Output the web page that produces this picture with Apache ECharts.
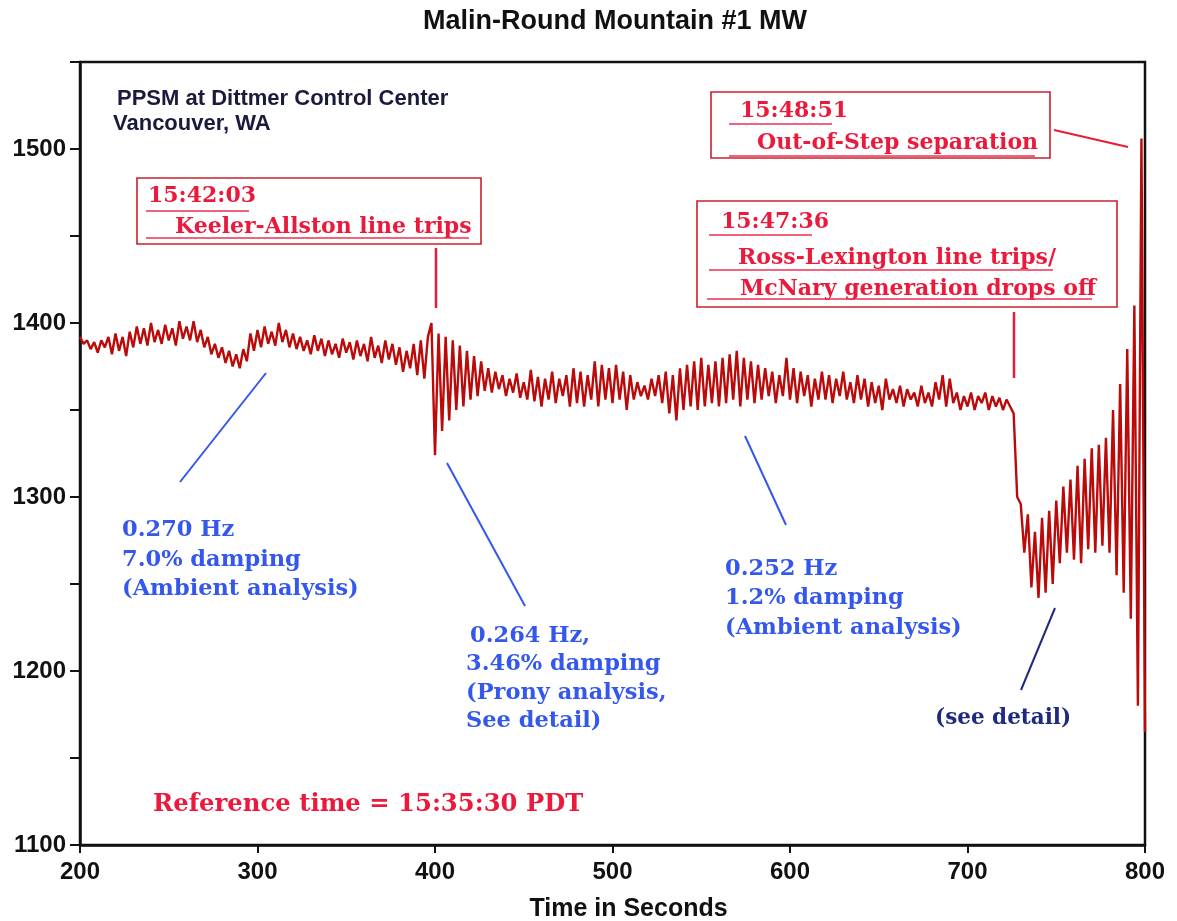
<!DOCTYPE html>
<html>
<head>
<meta charset="utf-8">
<title>Malin-Round Mountain #1 MW</title>
<script src="https://cdn.jsdelivr.net/npm/echarts@6/dist/echarts.min.js"></script>
<style>
  html, body { margin: 0; padding: 0; background: #fff; }
  #chart { width: 1177px; height: 921px; }
</style>
</head>
<body>
<div id="chart"></div>
<script>
// PPSM record of Malin-Round Mountain #1 flow (MW), one reading every 2 s from t = 200 s
const TIME_START = 200;
const TIME_STEP = 2;
const mw = [
  1392, 1388, 1390, 1385, 1389, 1383, 1390, 1386, 1392, 1382,
  1394, 1384, 1392, 1381, 1395, 1386, 1398, 1388, 1397, 1387,
  1400, 1389, 1396, 1388, 1399, 1390, 1397, 1387, 1401, 1391,
  1398, 1390, 1401, 1389, 1396, 1386, 1392, 1382, 1388, 1380,
  1386, 1377, 1384, 1375, 1382, 1374, 1385, 1378, 1394, 1384,
  1396, 1386, 1398, 1388, 1395, 1387, 1400, 1389, 1396, 1386,
  1394, 1385, 1392, 1384, 1390, 1382, 1393, 1384, 1391, 1381,
  1390, 1382, 1388, 1380, 1391, 1383, 1389, 1379, 1390, 1381,
  1388, 1378, 1392, 1380, 1387, 1377, 1390, 1379, 1388, 1376,
  1386, 1372, 1384, 1374, 1388, 1370, 1390, 1368, 1392, 1400,
  1324, 1394, 1338, 1392, 1344, 1390, 1350, 1387, 1352, 1384,
  1356, 1381, 1358, 1378, 1361, 1374, 1360, 1372, 1362, 1370,
  1358, 1368, 1360, 1371, 1357, 1366, 1356, 1373, 1355, 1369,
  1352, 1368, 1356, 1372, 1354, 1368, 1358, 1370, 1352, 1374,
  1354, 1372, 1352, 1370, 1356, 1378, 1352, 1376, 1356, 1374,
  1354, 1376, 1356, 1372, 1350, 1370, 1356, 1366, 1358, 1364,
  1356, 1368, 1358, 1370, 1354, 1372, 1348, 1370, 1344, 1374,
  1350, 1376, 1352, 1378, 1350, 1380, 1352, 1376, 1354, 1378,
  1352, 1380, 1354, 1382, 1356, 1384, 1352, 1380, 1356, 1378,
  1354, 1376, 1356, 1374, 1358, 1372, 1354, 1370, 1358, 1380,
  1356, 1374, 1354, 1372, 1358, 1370, 1352, 1368, 1356, 1372,
  1356, 1370, 1354, 1368, 1358, 1372, 1356, 1366, 1354, 1370,
  1356, 1368, 1352, 1366, 1354, 1364, 1350, 1368, 1356, 1362,
  1354, 1364, 1352, 1362, 1356, 1360, 1352, 1364, 1354, 1360,
  1352, 1366, 1356, 1370, 1352, 1368, 1354, 1360, 1350, 1358,
  1352, 1360, 1350, 1358, 1354, 1360, 1350, 1358, 1352, 1357,
  1350, 1356, 1352, 1348, 1300, 1296, 1268, 1290, 1248, 1280,
  1242, 1288, 1245, 1292, 1250, 1298, 1262, 1306, 1268, 1310,
  1264, 1318, 1262, 1322, 1270, 1328, 1268, 1330, 1272, 1334,
  1268, 1350, 1255, 1365, 1245, 1385, 1230, 1410, 1180, 1506,
  1165
];

// Axis ranges and tick labels
const xTicks = [200, 300, 400, 500, 600, 700, 800];
const yTicks = [1100, 1200, 1300, 1400, 1500];

const series = mw.map((v, i) => [TIME_START + i * TIME_STEP, v]);

const SANS = '"Liberation Sans", Arial, sans-serif';
const SERIF = '"DejaVu Serif", serif';
const RED = '#ea1a3c';
const BOX = '#c8202c';
const ULINE = '#ee3050';
const BLUE = '#3457ec';
const NAVY = '#1d2a80';

function txt(text, x, y, color, size, family) {
  return { type: 'text', z: 20, style: { text, x, y, fill: color,
    font: 'bold ' + size + 'px ' + family, verticalAlign: 'middle', align: 'left' } };
}
function seg(x1, y1, x2, y2, color, w) {
  return { type: 'line', z: 20, shape: { x1, y1, x2, y2 }, style: { stroke: color, lineWidth: w || 2 } };
}
function box(x, y, w, h) {
  return { type: 'rect', z: 20, shape: { x, y, width: w, height: h }, style: { fill: 'none', stroke: BOX, lineWidth: 1.6 } };
}

const graphics = [
  // station note
  txt('PPSM at Dittmer Control Center', 117, 99, '#1a1a3c', 22, SANS),
  txt('Vancouver, WA', 113, 124, '#1a1a3c', 22, SANS),

  // event 1
  box(137, 178, 344, 66),
  txt('15:42:03', 148, 196, RED, 22, SERIF),
  seg(146, 211, 249, 211, ULINE, 1.5),
  txt('Keeler-Allston line trips', 175, 227, RED, 22, SERIF),
  seg(146, 238, 469, 238, ULINE, 1.5),
  seg(436, 248, 436, 308, RED, 2.5),

  // event 2
  box(697, 201, 420, 106),
  txt('15:47:36', 721, 222, RED, 22, SERIF),
  seg(709, 235, 812, 235, ULINE, 1.5),
  txt('Ross-Lexington line trips/', 738, 258, RED, 22, SERIF),
  seg(709, 270, 1053, 270, ULINE, 1.5),
  txt('McNary generation drops off', 740, 289, RED, 22, SERIF),
  seg(707, 299, 1092, 299, ULINE, 1.5),
  seg(1014, 312, 1014, 378, RED, 2.5),

  // event 3
  box(711, 92, 339, 66),
  txt('15:48:51', 740, 111, RED, 22, SERIF),
  seg(729, 124, 832, 124, ULINE, 1.5),
  txt('Out-of-Step separation', 757, 143, RED, 22, SERIF),
  seg(729, 156, 1035, 156, ULINE, 1.5),
  seg(1054, 130, 1128, 147, RED, 2),

  // modal analysis notes
  seg(180, 482, 266, 373, BLUE, 2),
  txt('0.270 Hz', 122, 530, BLUE, 22.5, SERIF),
  txt('7.0% damping', 122, 560, BLUE, 22.5, SERIF),
  txt('(Ambient analysis)', 122, 589, BLUE, 22.5, SERIF),

  seg(447, 463, 525, 606, BLUE, 2),
  txt('0.264 Hz,', 470, 636, BLUE, 22.5, SERIF),
  txt('3.46% damping', 466, 664, BLUE, 22.5, SERIF),
  txt('(Prony analysis,', 466, 693, BLUE, 22.5, SERIF),
  txt('See detail)', 466, 721, BLUE, 22.5, SERIF),

  seg(745, 436, 786, 525, BLUE, 2),
  txt('0.252 Hz', 725, 569, BLUE, 22.5, SERIF),
  txt('1.2% damping', 725, 598, BLUE, 22.5, SERIF),
  txt('(Ambient analysis)', 725, 628, BLUE, 22.5, SERIF),

  seg(1021, 690, 1055, 608, NAVY, 2),
  txt('(see detail)', 935, 718, NAVY, 21.5, SERIF),

  txt('Reference time = 15:35:30 PDT', 153, 805, RED, 24.3, SERIF)
];

const chart = echarts.init(document.getElementById('chart'), null, { renderer: 'canvas' });
chart.setOption({
  animation: false,
  backgroundColor: '#fff',
  title: {
    text: 'Malin-Round Mountain #1 MW',
    left: 418, top: 3,
    textStyle: { fontFamily: SANS, fontWeight: 'bold', fontSize: 27, color: '#111' }
  },
  grid: {
    left: 80, right: 32, top: 62, bottom: 76,
    containLabel: false, outerBoundsMode: 'none',
    show: true, borderColor: '#111', borderWidth: 2.5
  },
  xAxis: {
    type: 'value',
    min: xTicks[0], max: xTicks[xTicks.length - 1], interval: 100,
    name: 'Time in Seconds', nameLocation: 'middle', nameGap: 52,
    nameTextStyle: { fontFamily: SANS, fontWeight: 'bold', fontSize: 25, color: '#111', padding: [0, 0, 0, 32] },
    axisLine: { show: true, lineStyle: { color: '#111', width: 2.5 } },
    axisTick: { show: true, inside: false, length: 8, lineStyle: { color: '#111', width: 2 } },
    axisLabel: { fontFamily: SANS, fontWeight: 'bold', fontSize: 24, color: '#111', margin: 15,
      formatter: v => xTicks.includes(v) ? String(v) : '' },
    splitLine: { show: false }
  },
  yAxis: {
    type: 'value',
    min: 1100, max: 1550, interval: 50,
    axisLine: { show: true, lineStyle: { color: '#111', width: 2.5 } },
    axisTick: { show: true, inside: false, length: 10, lineStyle: { color: '#111', width: 2 } },
    axisLabel: { fontFamily: SANS, fontWeight: 'bold', fontSize: 24, color: '#111', margin: 14,
      formatter: v => yTicks.includes(v) ? String(v) : '' },
    splitLine: { show: false }
  },
  series: [{
    type: 'line',
    data: series,
    showSymbol: false,
    clip: true,
    lineStyle: { color: '#bb0a0a', width: 2.4 },
    z: 5
  }],
  graphic: graphics
});
</script>
</body>
</html>
